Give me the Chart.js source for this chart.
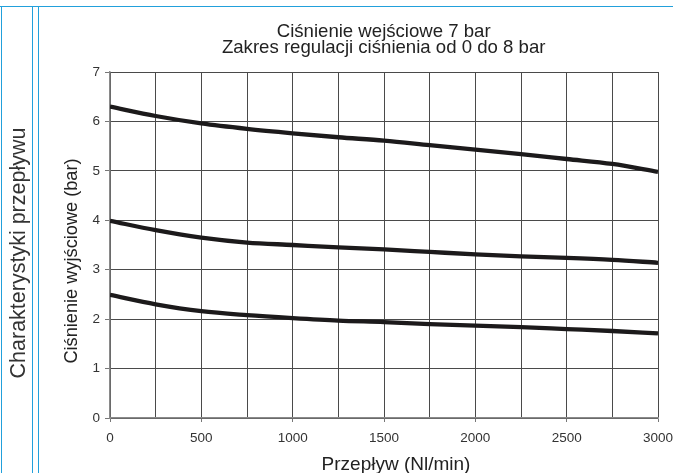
<!DOCTYPE html>
<html>
<head>
<meta charset="utf-8">
<script src="https://cdn.jsdelivr.net/npm/chart.js@4.4.1/dist/chart.umd.min.js"></script>
<style>
  html, body { margin: 0; padding: 0; background: #fff; }
  #wrap { position: relative; width: 673px; height: 473px; overflow: hidden; }
  #chart { position: absolute; left: 0; top: 0; }
  .rule { position: absolute; background: #22a0db; }
  .lbl {
    position: absolute; white-space: nowrap; text-align: center;
    font-family: "Liberation Sans", Arial, sans-serif; color: #222;
  }
  #side {
    left: 17.5px; top: 252.5px; width: 320px; line-height: 24px; font-size: 21.5px; color: #333;
    transform: translate(-50%, -50%) rotate(-90deg);
  }
  #title {
    left: 183.7px; top: 22.5px; width: 400px; line-height: 16px; font-size: 18.6px;
  }
  #ytitle {
    left: 70.5px; top: 260.5px; width: 300px; line-height: 22px; font-size: 18.2px;
    transform: translate(-50%, -50%) rotate(-90deg);
  }
  #xtitle {
    left: 246px; top: 453px; width: 300px; line-height: 22px; font-size: 19px;
  }
</style>
</head>
<body>
<div id="wrap">
  <canvas id="chart" width="673" height="473"></canvas>
  <div class="rule" style="left:0;top:6px;width:673px;height:1px"></div>
  <div class="rule" style="left:1px;top:6px;width:1px;height:467px"></div>
  <div class="rule" style="left:32px;top:6px;width:1px;height:467px"></div>
  <div class="rule" style="left:38px;top:6px;width:1px;height:467px"></div>
  <div class="lbl" id="side">Charakterystyki przepływu</div>
  <div class="lbl" id="title"></div>
  <div class="lbl" id="ytitle"></div>
  <div class="lbl" id="xtitle"></div>
</div>
<script>
// flow in Nl/min, outlet pressure in bar for three set points (inlet 7 bar)
const flow = [0, 250, 500, 750, 1000, 1250, 1500, 1750, 2000, 2250, 2500, 2750, 3000];
const highSet = [6.30, 6.11, 5.96, 5.85, 5.76, 5.68, 5.61, 5.52, 5.43, 5.34, 5.24, 5.14, 4.98];
const midSet = [3.99, 3.80, 3.65, 3.55, 3.50, 3.45, 3.41, 3.36, 3.31, 3.27, 3.24, 3.20, 3.14];
const lowSet = [2.49, 2.30, 2.16, 2.08, 2.02, 1.97, 1.94, 1.90, 1.87, 1.84, 1.80, 1.76, 1.71];
const titleLines = ['Ciśnienie wejściowe 7 bar', 'Zakres regulacji ciśnienia od 0 do 8 bar'];
const xTitle = 'Przepływ (Nl/min)';
const yTitle = 'Ciśnienie wyjściowe (bar)';

// titles sit in html so they can be centred on the plot area like the original
const titleEl = document.getElementById('title');
titleLines.forEach((line) => {
    const d = document.createElement('div');
    d.textContent = line;
    titleEl.appendChild(d);
});
document.getElementById('xtitle').textContent = xTitle;
document.getElementById('ytitle').textContent = yTitle;

const FONT = '"Liberation Sans", Arial, sans-serif';

const toPoints = (vals) => vals.map((v, i) => ({ x: flow[i], y: v }));

const curve = (vals) => ({
    data: toPoints(vals),
    borderColor: '#1c1a1b',
    borderWidth: 4.3,
    pointRadius: 0,
    tension: 0.4,
    cubicInterpolationMode: 'monotone',
    fill: false,
});

new Chart(document.getElementById('chart'), {
    type: 'line',
    data: {
        datasets: [curve(highSet), curve(midSet), curve(lowSet)],
    },
    options: {
        responsive: false,
        animation: false,
        layout: { padding: { left: 50, right: 15, top: 72, bottom: 0 } },
        plugins: {
            legend: { display: false },
            tooltip: { enabled: false },
            title: { display: false },
        },
        scales: {
            x: {
                type: 'linear',
                min: 0,
                max: 3000,
                afterFit: (scale) => {
                    scale.height = 55;
                    scale.paddingLeft = 0;
                    scale.paddingRight = 0;
                },
                ticks: {
                    stepSize: 250,
                    autoSkip: false,
                    maxRotation: 0,
                    padding: 8,
                    color: '#333',
                    font: { family: FONT, size: 13.5 },
                    callback: (v) => (v % 500 === 0 ? String(v) : ''),
                },
                grid: {
                    color: '#4a4a4a',
                    lineWidth: 1,
                    tickLength: 4,
                    tickColor: (ctx) => (ctx.tick && ctx.tick.value % 500 === 0 ? '#777' : 'rgba(0,0,0,0)'),
                },
                border: { color: '#8a8a8a', width: 1.5 },
            },
            y: {
                min: 0,
                max: 7,
                afterFit: (scale) => {
                    scale.width = 60;
                    scale.paddingTop = 0;
                    scale.paddingBottom = 0;
                },
                ticks: {
                    stepSize: 1,
                    padding: 5,
                    color: '#333',
                    font: { family: FONT, size: 13.5 },
                },
                grid: {
                    color: '#4a4a4a',
                    lineWidth: 1,
                    tickLength: 5,
                    tickColor: '#777',
                },
                border: { color: '#8a8a8a', width: 1.5 },
            },
        },
    },
});
</script>
</body>
</html>
